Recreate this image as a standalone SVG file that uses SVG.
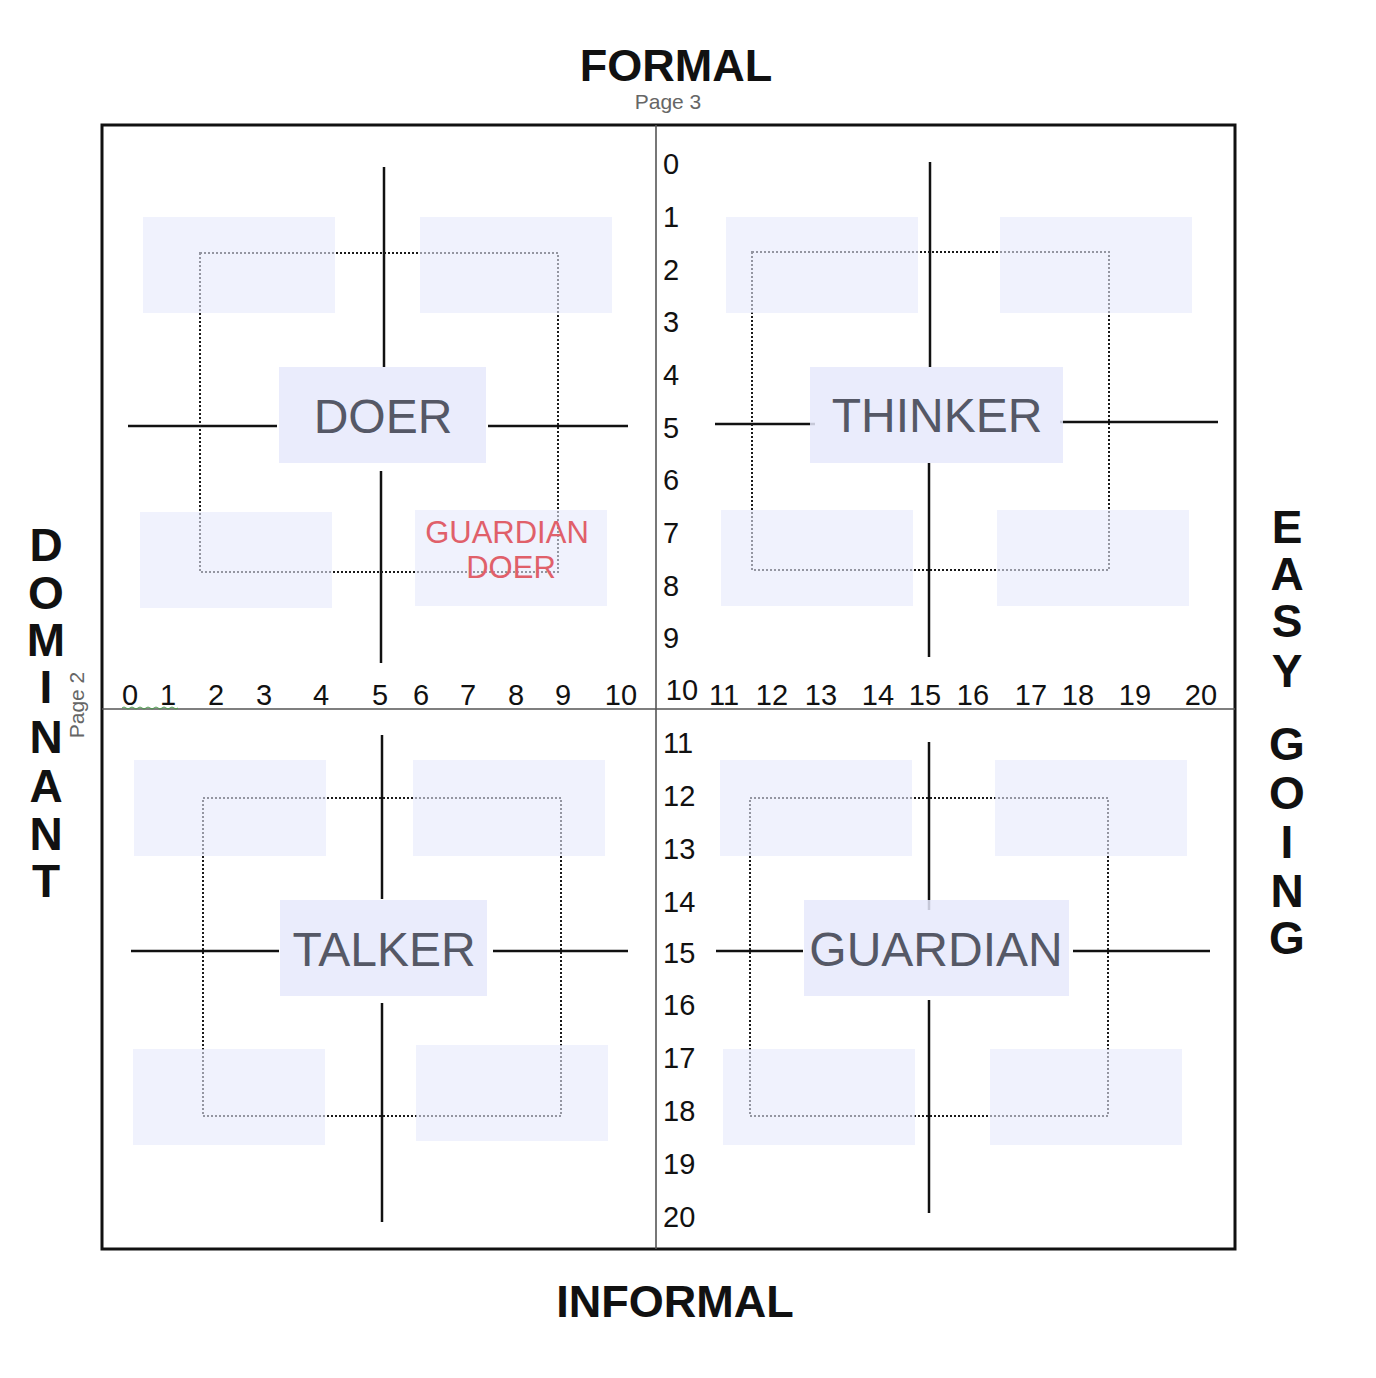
<svg xmlns="http://www.w3.org/2000/svg" width="1376" height="1378" viewBox="0 0 1376 1378">
<style>
.frame{fill:none;stroke:#111;stroke-width:3}
.axis{stroke:#555;stroke-width:1.6}
.ln{stroke:#111;stroke-width:2.5}
.dot{fill:none;stroke:#1a1a1a;stroke-width:2;stroke-dasharray:2 2;shape-rendering:crispEdges}
.pad{fill:#e6e9fc;opacity:0.6}
.lab{font-family:"Liberation Sans",Arial,sans-serif;font-size:48px;fill:#555866;text-anchor:middle}
.num{font-family:"Liberation Sans",Arial,sans-serif;font-size:29px;fill:#111}
.big{font-family:"Liberation Sans",Arial,sans-serif;font-weight:bold;font-size:45px;fill:#111;text-anchor:middle}
.vert{font-family:"Liberation Sans",Arial,sans-serif;font-weight:bold;font-size:46px;fill:#111;text-anchor:middle}
.pg{font-family:"Liberation Sans",Arial,sans-serif;font-weight:normal;font-size:21px;fill:#666;text-anchor:middle}
.red{font-family:"Liberation Sans",Arial,sans-serif;font-size:31px;fill:#e0606a;text-anchor:middle}
</style>
<rect width="1376" height="1378" fill="#fff"/>

<g id="axes">
<rect class="frame" x="102" y="125" width="1133" height="1124"/>
<line class="axis" x1="656" y1="125" x2="656" y2="1249"/>
<line class="axis" x1="102" y1="709" x2="1235" y2="709"/>
</g>

<g id="connectors">
<line class="ln" x1="384" y1="167" x2="384" y2="367"/>
<line class="ln" x1="381" y1="471" x2="381" y2="663"/>
<line class="ln" x1="128" y1="426" x2="277" y2="426"/>
<line class="ln" x1="488" y1="426" x2="628" y2="426"/>
<line class="ln" x1="930" y1="162" x2="930" y2="367"/>
<line class="ln" x1="929" y1="463" x2="929" y2="657"/>
<line class="ln" x1="715" y1="424" x2="815" y2="424"/>
<line class="ln" x1="1060" y1="422" x2="1218" y2="422"/>
<line class="ln" x1="382" y1="735" x2="382" y2="899"/>
<line class="ln" x1="382" y1="1003" x2="382" y2="1222"/>
<line class="ln" x1="131" y1="951" x2="279" y2="951"/>
<line class="ln" x1="493" y1="951" x2="628" y2="951"/>
<line class="ln" x1="929" y1="742" x2="929" y2="910"/>
<line class="ln" x1="929" y1="1000" x2="929" y2="1213"/>
<line class="ln" x1="716" y1="951" x2="803" y2="951"/>
<line class="ln" x1="1073" y1="951" x2="1210" y2="951"/>
<rect class="dot" x="200" y="253" width="358" height="319"/>
<rect class="dot" x="752" y="252" width="357" height="318"/>
<rect class="dot" x="203" y="798" width="358" height="318"/>
<rect class="dot" x="750" y="798" width="358" height="318"/>
</g>

<g id="pads">
<rect class="pad" x="143" y="217" width="192" height="96"/>
<rect class="pad" x="420" y="217" width="192" height="96"/>
<rect class="pad" x="140" y="512" width="192" height="96"/>
<rect class="pad" x="415" y="510" width="192" height="96"/>
<rect class="pad" x="726" y="217" width="192" height="96"/>
<rect class="pad" x="1000" y="217" width="192" height="96"/>
<rect class="pad" x="721" y="510" width="192" height="96"/>
<rect class="pad" x="997" y="510" width="192" height="96"/>
<rect class="pad" x="134" y="760" width="192" height="96"/>
<rect class="pad" x="413" y="760" width="192" height="96"/>
<rect class="pad" x="133" y="1049" width="192" height="96"/>
<rect class="pad" x="416" y="1045" width="192" height="96"/>
<rect class="pad" x="720" y="760" width="192" height="96"/>
<rect class="pad" x="995" y="760" width="192" height="96"/>
<rect class="pad" x="723" y="1049" width="192" height="96"/>
<rect class="pad" x="990" y="1049" width="192" height="96"/>
</g>

<g id="doer">
<rect class="pad" x="279" y="367" width="207" height="96" style="opacity:0.85"/>
<text class="lab" x="383" y="433">DOER</text>
</g>
<g id="thinker">
<rect class="pad" x="810" y="367" width="253" height="96" style="opacity:0.85"/>
<text class="lab" x="937" y="432">THINKER</text>
</g>
<g id="talker">
<rect class="pad" x="280" y="900" width="207" height="96" style="opacity:0.85"/>
<text class="lab" x="384" y="966">TALKER</text>
</g>
<g id="guardian">
<rect class="pad" x="804" y="900" width="265" height="96" style="opacity:0.85"/>
<text class="lab" x="936" y="966">GUARDIAN</text>
</g>
<g id="guardian-doer">
<text class="red" x="507" y="543">GUARDIAN</text>
<text class="red" x="511" y="578">DOER</text>
</g>

<g id="x-numbers" class="num" text-anchor="middle">
<text x="130" y="705">0</text>
<text x="168" y="705">1</text>
<text x="216" y="705">2</text>
<text x="264" y="705">3</text>
<text x="321" y="705">4</text>
<text x="380" y="705">5</text>
<text x="421" y="705">6</text>
<text x="468" y="705">7</text>
<text x="516" y="705">8</text>
<text x="563" y="705">9</text>
<text x="621" y="705">10</text>
<text x="682" y="700">10</text>
<text x="724" y="705">11</text>
<text x="772" y="705">12</text>
<text x="821" y="705">13</text>
<text x="878" y="705">14</text>
<text x="925" y="705">15</text>
<text x="973" y="705">16</text>
<text x="1031" y="705">17</text>
<text x="1078" y="705">18</text>
<text x="1135" y="705">19</text>
<text x="1201" y="705">20</text>
</g>
<path d="M122 708 q2 -2 4 0 t4 0 t4 0 t4 0 t4 0 t4 0 t4 0 t4 0 t4 0 t4 0 t4 0 t4 0 t4 0 t4 0" fill="none" stroke="#4a9a4a" stroke-width="1"/>

<g id="y-numbers" class="num">
<text x="663" y="174">0</text>
<text x="663" y="227">1</text>
<text x="663" y="280">2</text>
<text x="663" y="332">3</text>
<text x="663" y="385">4</text>
<text x="663" y="438">5</text>
<text x="663" y="490">6</text>
<text x="663" y="543">7</text>
<text x="663" y="596">8</text>
<text x="663" y="648">9</text>
<text x="663" y="753">11</text>
<text x="663" y="806">12</text>
<text x="663" y="859">13</text>
<text x="663" y="912">14</text>
<text x="663" y="963">15</text>
<text x="663" y="1015">16</text>
<text x="663" y="1068">17</text>
<text x="663" y="1121">18</text>
<text x="663" y="1174">19</text>
<text x="663" y="1227">20</text>
</g>

<g id="formal">
<text class="big" x="676" y="81">FORMAL</text>
<text class="pg" x="668" y="109">Page 3</text>
</g>
<g id="informal">
<text class="big" x="675" y="1317">INFORMAL</text>
</g>
<g id="dominant" class="vert">
<text x="46" y="561">D</text>
<text x="46" y="609">O</text>
<text x="46" y="656">M</text>
<text x="46" y="703">I</text>
<text x="46" y="753">N</text>
<text x="46" y="802">A</text>
<text x="46" y="850">N</text>
<text x="46" y="897">T</text>
</g>
<g id="page2">
<text class="pg" transform="translate(84,705) rotate(-90)">Page 2</text>
</g>
<g id="easy-going" class="vert">
<text x="1287" y="543">E</text>
<text x="1287" y="590">A</text>
<text x="1287" y="637">S</text>
<text x="1287" y="687">Y</text>
<text x="1287" y="760">G</text>
<text x="1287" y="809">O</text>
<text x="1287" y="858">I</text>
<text x="1287" y="907">N</text>
<text x="1287" y="954">G</text>
</g>
</svg>
